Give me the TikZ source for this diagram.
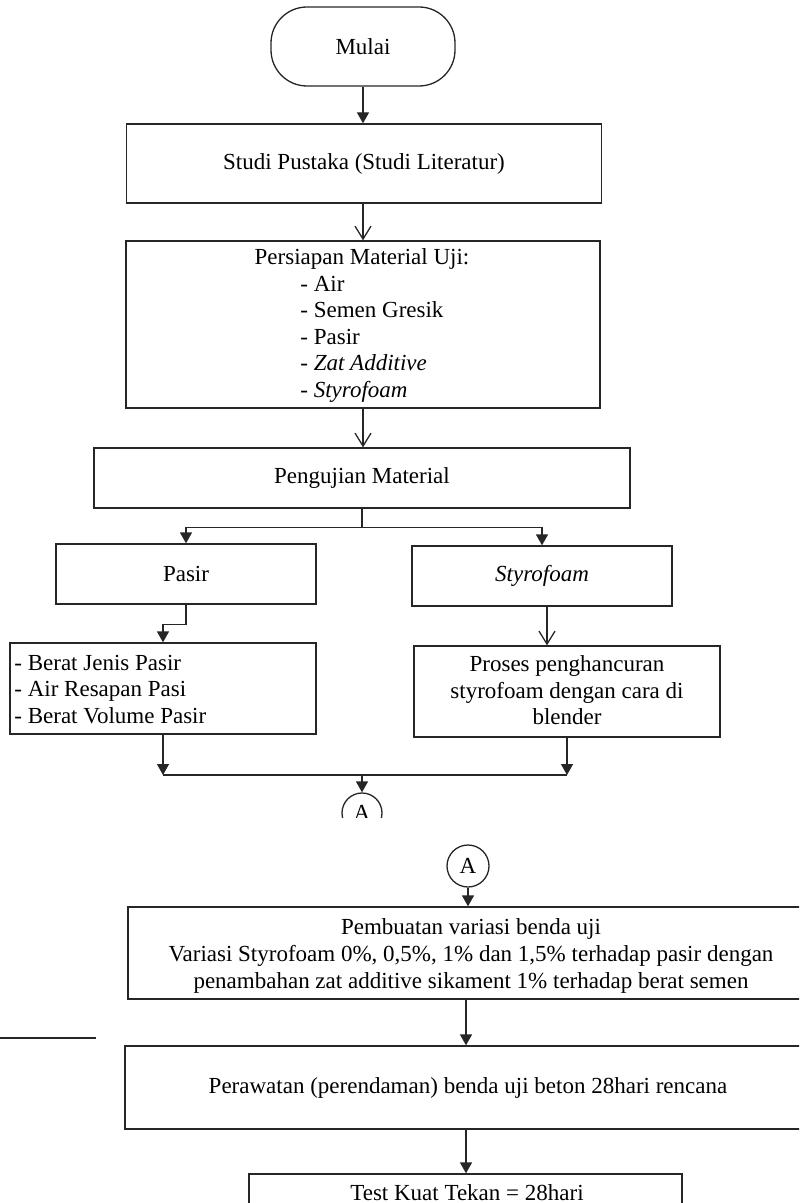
\documentclass[tikz,border=0pt]{standalone}
\usepackage{fontspec}
\setmainfont{Liberation Serif}
\usetikzlibrary{arrows.meta}
\begin{document}
\begin{tikzpicture}[x=0.5pt,y=-0.5pt,
  every node/.style={font=\fontsize{11.5}{13}\selectfont, text=black},
  box/.style={draw=black!85, line width=0.65pt, inner sep=0pt},
  ln/.style={draw=black!85, line width=0.65pt},
  fa/.style={ln, -{Triangle[width=6pt,length=5.5pt]}},
  oa/.style={ln, -{Straight Barb[width=8pt,length=6.5pt]}},
  txt/.style={inner sep=0pt},
  conn/.style={box, circle}]
\useasboundingbox (0,0) rectangle (799,1203);
\clip (0,0) rectangle (799,1203);

% boxes
\node[box, rounded corners=18pt, minimum width=92pt, minimum height=39.5pt] (mulai) at (363,46.5) {Mulai};
\node[box, minimum width=237.5pt, minimum height=39.5pt] (studi) at (364,163.5) {Studi Pustaka (Studi Literatur)};
\node[box, minimum width=237pt, minimum height=83.5pt] (persiapan) at (363,324.5) {};
\node[txt, anchor=base] (p0) at (362,265) {Persiapan Material Uji:};
\node[txt, anchor=base west] (p1) at (300,292) {- Air};
\node[txt, anchor=base west] (p2) at (300,318) {- Semen Gresik};
\node[txt, anchor=base west] (p3) at (300,344) {- Pasir};
\node[txt, anchor=base west] (p4) at (300,370) {- \textit{Zat Additive}};
\node[txt, anchor=base west] (p5) at (300,397) {- \textit{Styrofoam}};

\node[box, minimum width=268pt, minimum height=30pt] (pengujian) at (362,478) {Pengujian Material};
\node[box, minimum width=130pt, minimum height=30pt] (pasir) at (186,574) {Pasir};
\node[box, minimum width=130pt, minimum height=30pt] (styro) at (542,576) {\textit{Styrofoam}};

\node[box, minimum width=153pt, minimum height=45.5pt] (berat) at (163,688.5) {};
\node[txt, anchor=base west] (b1) at (14,670) {- Berat Jenis Pasir};
\node[txt, anchor=base west] (b2) at (14,696) {- Air Resapan Pasi};
\node[txt, anchor=base west] (b3) at (14,723) {- Berat Volume Pasir};

\node[box, minimum width=153pt, minimum height=45.5pt] (proses) at (567,691.5) {};
\node[txt, align=center, font=\fontsize{11.5}{13.25}\selectfont] (pt) at (567,690.5) {Proses penghancuran\\styrofoam dengan cara di\\blender};

\begin{scope}
\clip (320,780) rectangle (410,817);
\node[conn, minimum size=20pt] (a1) at (362,813) {A};
\end{scope}

\node[conn, minimum size=21pt] (a2) at (468,866) {A};

\node[box, minimum width=343pt, minimum height=46pt] (pembuatan) at (471,953) {};
\node[txt, align=center, font=\fontsize{11.5}{13.5}\selectfont] (pbt) at (471,956) {Pembuatan variasi benda uji\\Variasi Styrofoam 0\%, 0,5\%, 1\% dan 1,5\% terhadap pasir dengan\\penambahan zat additive sikament 1\% terhadap berat semen};

\node[box, minimum width=343pt, minimum height=41.5pt] (perawatan) at (468,1087.5) {Perawatan (perendaman) benda uji beton 28hari rencana};

\node[box, minimum width=216.5pt, minimum height=43pt] (test) at (465.5,1217) {};
\node[txt, anchor=base] (tt) at (467,1200) {Test Kuat Tekan = 28hari};

% stray rule
\coordinate (r0) at (0,1038);
\coordinate (r1) at (96,1038);
\draw[ln, line width=0.8pt] (r0) -- (r1);

% connectors
\draw[fa] (mulai.south) -- (mulai.south |- studi.north);
\draw[oa] (persiapan.north |- studi.south) -- (persiapan.north);
\draw[oa] (persiapan.south) -- (persiapan.south |- pengujian.north);
\draw[fa] (pengujian.south) -- ++(0,19) -| (pasir.north);
\draw[fa] (pengujian.south) -- ++(0,19) -| (styro.north);
\draw[fa] (pasir.south) -- ++(0,20) -| (berat.north);
\path ([xshift=2.5pt]styro.south) coordinate (s1);
\draw[oa] (s1) -- (s1 |- proses.north);

\coordinate (m) at (362,775);
\draw[fa] (berat.south) -- (berat.south |- m);
\draw[fa] (proses.south) -- (proses.south |- m);
\draw[ln] (berat.south |- m) -- (proses.south |- m);
\draw[fa] (m) -- (a1.north);

\draw[fa] (a2.south) -- (a2.south |- pembuatan.north);
\path ([xshift=-2.5pt]pembuatan.south) coordinate (c1);
\draw[fa] (c1) -- (c1 |- perawatan.north);
\path ([xshift=-1pt]perawatan.south) coordinate (c2);
\draw[fa] (c2) -- (c2 |- test.north);
\end{tikzpicture}
\end{document}
